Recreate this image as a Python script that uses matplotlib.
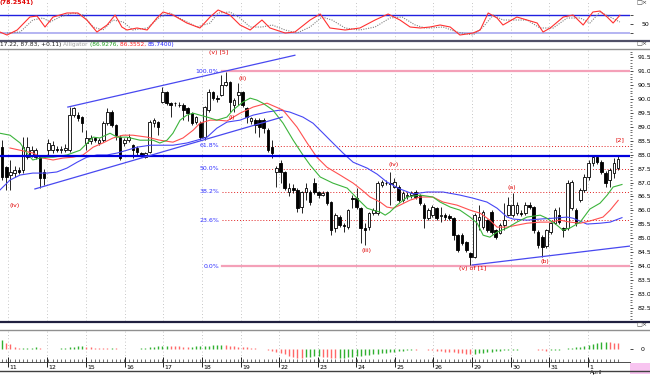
import matplotlib
matplotlib.use("Agg")
import matplotlib.pyplot as plt
from matplotlib.lines import Line2D
from matplotlib.patches import Rectangle

W, H = 650, 375

# ---- price bars (one per bar) ----
opens = [88.27, 87.55, 87.27, 87.35, 87.45, 87.45, 87.91, 87.98, 87.91, 87.91,
         87.37, 88.16, 88.16, 88.20, 88.16, 88.16, 88.16, 89.42, 89.42, 89.35,
         88.42, 88.50, 88.60, 88.42, 88.52, 89.13, 89.53, 89.06, 88.63, 88.42,
         88.52, 88.34, 88.25, 88.06, 87.91, 88.10, 89.13, 89.17, 89.89, 90.25,
         89.85, 89.85, 89.80, 89.78, 89.67, 89.49, 89.17, 89.13, 88.63, 89.60,
         90.25, 90.05, 90.14, 90.50, 90.60, 89.78, 90.14, 90.25, 89.67, 89.20,
         89.24, 89.24, 89.24, 88.88, 88.27, 87.37, 87.70, 87.37, 86.66, 86.80,
         86.73, 86.12, 86.66, 86.66, 87.00, 86.66, 86.55, 86.66, 86.30, 85.36,
         85.76, 85.47, 85.40, 86.44, 86.44, 86.08, 85.36, 85.40, 85.90, 85.90,
         86.91, 86.98, 86.98, 86.84, 86.84, 86.37, 86.50, 86.55, 86.66, 86.55,
         86.19, 85.72, 85.83, 86.08, 85.80, 85.83, 85.80, 85.72, 85.11, 85.11,
         84.86, 84.46, 84.32, 85.65, 85.40, 85.65, 85.94, 85.29, 85.20, 85.47,
         85.83, 85.83, 85.90, 85.92, 85.90, 86.19, 86.12, 85.22, 85.04, 84.72,
         85.22, 85.54, 85.83, 85.36, 85.36, 86.08, 86.01, 86.37, 86.73, 87.20,
         87.70, 87.91, 87.74, 87.34, 87.09, 87.34, 87.52]
highs = [88.52, 87.60, 87.81, 87.60, 87.55, 88.63, 88.63, 88.30, 88.25, 88.00,
         87.50, 88.55, 88.50, 88.30, 88.30, 88.40, 89.71, 89.72, 89.55, 89.40,
         88.88, 88.70, 88.65, 88.60, 89.20, 89.67, 89.60, 89.10, 88.70, 88.60,
         88.75, 88.40, 88.30, 88.10, 88.10, 89.25, 89.30, 89.20, 90.43, 90.30,
         89.90, 89.90, 89.90, 89.85, 89.70, 89.55, 89.40, 89.20, 89.75, 90.35,
         90.30, 90.15, 90.86, 90.97, 90.65, 90.05, 90.57, 90.30, 89.70, 89.35,
         89.30, 89.30, 89.30, 88.95, 88.52, 87.60, 87.80, 87.40, 87.00, 86.95,
         86.80, 86.70, 87.00, 86.75, 87.15, 86.70, 86.70, 86.70, 86.35, 85.90,
         85.85, 85.55, 86.05, 86.55, 86.80, 86.12, 85.54, 85.95, 86.10, 87.05,
         87.10, 87.10, 87.37, 87.15, 86.90, 86.70, 86.65, 86.70, 86.75, 86.60,
         86.25, 86.10, 86.20, 86.12, 86.12, 85.90, 85.88, 85.76, 85.15, 85.20,
         84.90, 84.50, 85.90, 86.19, 86.00, 85.70, 86.00, 85.35, 85.55, 86.26,
         86.48, 86.62, 86.30, 86.00, 86.30, 86.30, 86.15, 85.30, 85.10, 85.35,
         85.60, 86.10, 86.12, 85.40, 87.09, 87.10, 86.10, 86.80, 87.30, 87.80,
         88.00, 87.98, 87.80, 87.40, 87.52, 87.88, 87.98]
lows = [87.10, 86.73, 86.73, 87.20, 87.30, 87.35, 87.85, 87.90, 87.85, 86.80,
        86.90, 88.00, 88.05, 88.10, 88.05, 88.10, 88.10, 89.35, 89.20, 88.80,
        88.16, 88.40, 88.45, 88.35, 88.45, 89.05, 89.00, 88.52, 87.80, 88.30,
        88.45, 87.88, 88.00, 87.90, 87.88, 88.05, 89.00, 88.70, 89.85, 89.80,
        89.35, 89.75, 89.70, 89.24, 89.20, 89.06, 89.10, 88.52, 88.52, 89.55,
        89.95, 89.90, 90.10, 90.45, 89.53, 89.53, 89.78, 89.70, 89.13, 89.10,
        88.77, 88.63, 88.77, 88.10, 87.88, 86.84, 87.00, 86.75, 86.50, 86.62,
        85.94, 85.90, 86.37, 86.20, 86.60, 86.44, 86.50, 86.20, 85.11, 85.22,
        85.40, 85.22, 85.35, 86.10, 86.05, 84.83, 84.75, 85.30, 85.85, 85.85,
        86.85, 86.90, 86.19, 86.80, 86.30, 86.30, 86.40, 86.45, 86.40, 86.20,
        85.36, 85.65, 85.75, 85.65, 85.60, 85.65, 85.65, 84.93, 84.50, 84.75,
        84.50, 84.04, 84.28, 85.29, 85.35, 85.22, 85.15, 84.97, 85.15, 85.30,
        85.80, 85.75, 85.85, 85.80, 85.85, 86.05, 85.20, 84.65, 84.32, 84.65,
        85.15, 85.50, 85.50, 85.04, 85.30, 86.00, 85.45, 86.30, 86.65, 87.10,
        87.60, 87.65, 87.30, 86.84, 86.84, 87.16, 87.45]
closes = [87.20, 87.20, 87.37, 87.45, 87.37, 88.27, 88.27, 88.16, 88.16, 87.16,
          87.16, 88.42, 88.34, 88.16, 88.20, 88.25, 89.42, 89.67, 89.30, 89.13,
          88.60, 88.60, 88.52, 88.52, 89.13, 89.53, 89.06, 88.70, 87.88, 88.52,
          88.63, 88.16, 88.10, 87.98, 88.06, 89.17, 89.24, 89.00, 90.25, 89.85,
          89.80, 89.87, 89.78, 89.60, 89.49, 89.13, 89.35, 88.63, 89.71, 90.25,
          90.03, 90.00, 90.50, 90.60, 89.89, 89.96, 90.25, 89.78, 89.35, 89.30,
          89.06, 89.00, 88.95, 88.16, 88.06, 87.52, 87.37, 86.80, 86.80, 86.73,
          86.08, 86.66, 86.80, 86.30, 86.66, 86.55, 86.62, 86.26, 85.29, 85.83,
          85.47, 85.45, 86.01, 86.40, 86.12, 85.36, 85.30, 85.90, 86.01, 86.98,
          87.02, 87.00, 86.95, 87.02, 86.37, 86.62, 86.55, 86.62, 86.48, 86.26,
          85.72, 86.01, 86.12, 85.72, 85.83, 85.76, 85.72, 85.11, 84.57, 84.83,
          84.57, 84.32, 85.83, 85.76, 85.94, 85.29, 85.22, 85.04, 85.47, 85.65,
          86.19, 86.19, 86.19, 85.88, 86.19, 86.12, 85.29, 84.75, 84.68, 85.29,
          85.54, 86.01, 85.58, 85.29, 86.98, 87.02, 85.54, 86.73, 87.20, 87.70,
          87.91, 87.74, 87.37, 86.98, 87.45, 87.70, 87.83]

# ---- Alligator lines (bar position, price) ----
lips_x = [-0.5, 1.9, 4.3, 5.9, 7.3, 9.0, 10.7, 12.1, 15.4, 18.5, 21.6, 23.2, 25.6, 27.3,
          29.6, 32.7, 35.8, 37.4, 39.1, 40.5, 42.2, 43.8, 45.3, 46.9, 48.6, 50.9, 53.3,
          54.7, 57.1, 58.8, 60.4, 61.8, 64.2, 66.6, 69.0, 71.3, 73.0, 75.4, 78.4, 81.8,
          84.1, 86.5, 87.9, 89.6, 90.8, 91.9, 93.6, 96.0, 99.1, 102.1, 103.8, 106.2,
          108.5, 110.9, 112.6, 114.0, 115.6, 117.3, 119.7, 122.0, 124.4, 127.5, 129.1,
          131.5, 132.9, 134.6, 137.0, 139.3, 141.7, 143.4, 144.8, 146.9]
lips_y = [88.77, 88.70, 88.42, 88.06, 87.81, 87.88, 87.91, 87.91, 87.99, 88.16, 88.63,
          88.60, 88.77, 88.63, 88.63, 88.52, 88.52, 88.42, 88.52, 88.77, 89.24, 89.42,
          89.49, 89.42, 89.35, 89.24, 89.35, 89.60, 89.89, 90.03, 89.96, 89.85, 89.60,
          89.13, 88.52, 87.99, 87.63, 87.20, 86.98, 86.80, 86.44, 86.08, 86.01, 85.94,
          85.83, 85.94, 86.19, 86.48, 86.55, 86.48, 86.30, 86.12, 86.01, 85.76, 85.54,
          85.11, 85.04, 85.22, 85.37, 85.58, 85.76, 85.83, 85.72, 85.47, 85.29, 85.37,
          85.58, 86.05, 86.26, 86.55, 86.84, 86.93]
teeth_x = [1.9, 4.3, 7.3, 9.7, 12.1, 14.5, 16.8, 19.2, 21.6, 23.9, 26.3, 28.7, 31.0,
           34.4, 37.4, 40.5, 42.9, 45.3, 46.9, 49.3, 51.2, 53.3, 56.4, 59.5, 62.8, 66.6,
           69.9, 72.3, 74.6, 77.0, 80.1, 83.2, 85.3, 87.2, 89.6, 91.2, 92.7, 94.3, 96.7,
           99.1, 102.1, 104.5, 107.8, 110.9, 113.3, 115.6, 117.3, 119.7, 122.0, 124.4,
           127.5, 129.9, 132.2, 134.6, 137.0, 139.3, 142.4, 144.1, 146.0]
teeth_y = [88.24, 88.16, 88.06, 87.88, 87.81, 87.88, 87.91, 87.99, 88.27, 88.42, 88.60,
           88.70, 88.70, 88.63, 88.52, 88.45, 88.60, 88.88, 89.13, 89.24, 89.24, 89.21,
           89.49, 89.71, 89.85, 89.60, 88.99, 88.42, 87.91, 87.55, 87.27, 86.98, 86.73,
           86.48, 86.30, 86.12, 86.08, 86.19, 86.37, 86.48, 86.48, 86.30, 86.19, 86.01,
           85.90, 85.65, 85.40, 85.40, 85.47, 85.54, 85.58, 85.58, 85.65, 85.58, 85.54,
           85.62, 85.76, 86.01, 86.36]
jaw_x = [-0.5, 1.9, 4.3, 7.3, 10.7, 13.0, 15.4, 17.8, 20.1, 22.5, 24.9, 27.3, 29.6, 32.0,
         35.1, 37.4, 40.5, 43.8, 46.2, 48.6, 50.9, 53.3, 56.4, 59.5, 62.8, 65.9, 68.2,
         71.3, 73.7, 76.1, 78.4, 80.8, 83.2, 86.5, 88.9, 91.2, 94.3, 97.4, 100.7, 104.5,
         108.5, 111.6, 114.9, 117.3, 119.7, 121.1, 124.4, 127.5, 130.6, 133.9, 135.3,
         138.6, 141.7, 144.1, 146.9]
jaw_y = [86.73, 87.09, 87.27, 87.34, 87.34, 87.38, 87.52, 87.73, 87.91, 87.99, 87.99,
         88.06, 88.16, 88.27, 88.34, 88.34, 88.34, 88.42, 88.52, 88.63, 88.95, 89.17,
         89.24, 89.42, 89.53, 89.60, 89.53, 89.35, 89.13, 88.77, 88.42, 88.06, 87.73,
         87.52, 87.30, 87.02, 86.77, 86.59, 86.66, 86.66, 86.55, 86.44, 86.30, 86.08,
         85.76, 85.69, 85.65, 85.69, 85.72, 85.76, 85.72, 85.51, 85.54, 85.58, 85.74]

# ---- stochastic (top panel) ----
stoch_x = [-0.5, 1.2, 3.6, 6.6, 8.3, 10.2, 12.1, 15.4, 18.0, 20.1, 22.5, 24.9, 26.8,
           28.4, 29.6, 32.0, 34.4, 36.7, 38.2, 40.5, 43.8, 46.9, 49.3, 51.2, 54.0, 56.4,
           58.8, 61.6, 63.5, 67.1, 69.4, 73.0, 75.4, 77.7, 81.3, 84.8, 88.4, 91.5, 94.3,
           96.7, 99.1, 101.4, 103.8, 106.2, 108.5, 111.6, 113.3, 115.2, 117.3, 118.7,
           122.0, 124.4, 126.8, 128.2, 129.9, 133.0, 135.3, 137.7, 140.0, 141.7, 143.4,
           144.8, 146.4]
stoch_k = [22.3, 12.3, 29.0, 72.3, 75.7, 39.0, 72.3, 85.7, 85.7, 62.3, 22.3, 45.7, 79.0,
           39.0, 29.0, 35.7, 29.0, 69.0, 89.0, 79.0, 52.3, 35.7, 72.3, 95.7, 79.0, 45.7,
           29.0, 62.3, 35.7, 19.0, 22.3, 62.3, 82.3, 35.7, 29.0, 35.7, 62.3, 82.3, 62.3,
           39.0, 35.7, 39.0, 45.7, 39.0, 12.3, 19.0, 29.0, 85.7, 69.0, 45.7, 72.3, 62.3,
           52.3, 22.3, 35.7, 72.3, 79.0, 45.7, 89.0, 92.3, 72.3, 52.3, 78.3]
sig_x = [1.2, 4.3, 7.3, 9.7, 11.4, 13.7, 16.8, 19.2, 21.6, 23.9, 26.3, 28.7, 31.0, 34.4,
         37.4, 39.8, 42.9, 46.2, 49.3, 51.2, 54.0, 56.4, 58.8, 61.6, 64.0, 67.1, 69.9,
         73.0, 75.8, 78.2, 81.3, 84.8, 88.4, 91.9, 94.8, 97.9, 100.2, 101.4, 104.5,
         107.8, 111.6, 114.0, 116.4, 118.7, 121.1, 124.4, 127.5, 130.6, 133.9, 137.0,
         139.3, 141.7, 144.1, 146.4]
stoch_d = [19.0, 22.3, 62.3, 69.0, 55.7, 72.3, 85.7, 79.0, 39.0, 29.0, 62.3, 55.7, 29.0,
           35.7, 72.3, 85.7, 62.3, 39.0, 52.3, 85.7, 89.0, 69.0, 39.0, 39.0, 45.7, 29.0,
           19.0, 39.0, 72.3, 62.3, 35.7, 29.0, 39.0, 69.0, 72.3, 45.7, 35.7, 35.7, 39.0,
           22.3, 12.3, 39.0, 79.0, 62.3, 62.3, 62.3, 35.7, 35.7, 69.0, 69.0, 52.3, 89.0,
           72.3, 55.7]

# ---- oscillator histogram (bottom panel), one value per bar ----
osc = [9, 6, 5, 2, 1.5, 1.6, 1.7, 1.8, 1.9, 1, 0.5, 0.5, 0.7, 0.8, 1, 1.5, 2, 2.5, 3, 3.2,
       2.5, 2, 1.8, 1.5, 1.2, 1, 1.2, 1, 0.8, 0.6, 0.5, 0.6, 0.8, 1, 1.2, 2, 2.5, 3, 3.5,
       3.8, 3.5, 3.2, 3, 2.8, 2.6, 2.8, 3, 3.4, 3.6, 3.8, 4, 4.2, 4.3, 4.1, 3.6, 3.2, 2.8,
       2.4, 2, 1.6, 1.2, 0.8, 0.3, -0.5, -1.5, -2.5, -4, -5, -6.5, -7.5, -8.5, -9, -8,
       -7.5, -7, -6.8, -7.5, -8, -8.5, -9, -8.5, -8.2, -7.8, -7.5, -7, -6.5, -6, -5.5, -5,
       -4.5, -4, -3.5, -3, -2.5, -2, -1.5, -1, -0.5, -0.6, 0.3, 0.4, -0.5, -1, -1.5, -2,
       -2.2, -2.5, -3, -3.5, -4, -4.5, -4.8, -4.5, -4, -3.5, -3, -2.5, -2, -1.5, -1, -0.7,
       -0.5, -0.3, 0.3, 0.5, 0.4, 0.2, -0.5, -1, -1.2, -1, -0.5, -0.2, 0.5, 1, 1.5, 2, 2.5,
       3, 4, 5, 6, 7, 7.5, 7, 6.8, 6.5]

# ---- axis labels / annotations ----
day_pos = [1.4, 10.7, 19.9, 29.1, 38.2, 47.4, 56.6, 65.6, 74.9, 83.9, 93.1, 102.1,
           111.4, 120.6, 129.6, 138.9]
day_labels = ['11', '12', '15', '16', '17', '18', '19', '22', '23', '24', '25', '26',
              '29', '30', '31', '1']
fib_high, fib_low = 91.0, 84.0
fib_levels = [1.0, 0.618, 0.5, 0.382, 0.236, 0.0]
fib_names = ['100.0%', '61.8%', '50.0%', '38.2%', '23.6%', '0.0%']
fib_start = 52.1
hline_price = 87.95
upper_chan = ([15.6, 69.4], [89.71, 91.57])
lower_chan = ([7.8, 66.4], [86.77, 89.35])
low_trend = ([111.4, 148.8], [84.04, 84.72])
wave_text = ['(iv)', '(v) [5]', '(ii)', '(i)', '(iii)', '(iv)', '(a)', '(b)', '(v) of [1]', '[2]']
wave_x = [3.1, 51.4, 56.9, 54.5, 86.3, 92.7, 120.9, 128.7, 111.4, 146.4]
wave_y = [86.19, 91.68, 90.75, 89.35, 84.57, 87.66, 86.84, 84.18, 83.93, 88.52]
header_parts = ['17.22, 87.83, +0.11) ', 'Alligator ', '(86.9276, ', '86.3552, ', '85.7400)']
header_colors = ['#202020', '#a0a0a0', '#20a020', '#ff2020', '#2020ff']

XMIN, XMAX = -0.47, 148.8
FS = 4.5

fig = plt.figure(figsize=(W / 100, H / 100), dpi=100)


def px_axes(x0, y0, x1, y1):
    return fig.add_axes([x0 / W, 1 - y1 / H, (x1 - x0) / W, (y1 - y0) / H])


def fig_hline(y, color, lw, x0=0, x1=W):
    fig.add_artist(Line2D([x0 / W, x1 / W], [1 - y / H, 1 - y / H], color=color, lw=lw))


def strip(ax):
    for s in ax.spines.values():
        s.set_visible(False)
    ax.set_xlim(XMIN, XMAX)
    ax.tick_params(axis='x', which='both', bottom=False, labelbottom=False)
    for d in day_pos:
        ax.axvline(d, color='#b4b4b4', lw=0.6, ls=(0, (1, 3)), zorder=0)


# top panel: stochastic
ax_top = px_axes(0, 0, 630, 40)
strip(ax_top)
ax_top.set_ylim(-4.3, 129)
ax_top.axhline(80, color='#2020e0', lw=1.0)
ax_top.axhline(20, color='#a8a8f0', lw=1.2)
ax_top.plot(sig_x, stoch_d, color='#808080', lw=0.8, ls=(0, (1, 1.2)))
ax_top.plot(stoch_x, stoch_k, color='#ff3030', lw=0.8)
ax_top.yaxis.tick_right()
ax_top.set_yticks([20, 50, 80])
ax_top.set_yticklabels(['', '50', ''])
ax_top.tick_params(axis='y', labelsize=FS, length=2, pad=6, width=0.5)
ax_top.text(0, 1.0, '(78.2541)', transform=ax_top.transAxes, color='#e00000',
            fontsize=FS, va='top', ha='left', fontweight='bold')

# main panel
ax = px_axes(0, 48, 630, 321)
strip(ax)
ax.set_ylim(82.03, 91.83)

for i in range(len(closes)):
    o, h, l, c = opens[i], highs[i], lows[i], closes[i]
    ax.vlines(i, l, h, color='black', lw=0.6, zorder=3)
    up = c >= o
    ax.bar(i, max(abs(c - o), 0.02), bottom=min(o, c), width=0.62,
           color='white' if up else 'black', edgecolor='black', lw=0.6, zorder=4)

ax.plot(jaw_x, jaw_y, color='#4646f5', lw=0.8, zorder=5)
ax.plot(teeth_x, teeth_y, color='#ff5050', lw=0.8, zorder=5)
ax.plot(lips_x, lips_y, color='#3cb43c', lw=0.8, zorder=5)

for lvl, name in zip(fib_levels, fib_names):
    p = fib_low + lvl * (fib_high - fib_low)
    if lvl in (0.0, 1.0):
        ax.plot([fib_start, XMAX], [p, p], color='#f4a0b8', lw=1.6, zorder=2)
    else:
        ax.plot([fib_start, XMAX], [p, p], color='#e02020', lw=0.7, ls=(0, (1, 2)), zorder=2)
    ax.text(fib_start - 0.7, p, name, color='#3030ff', fontsize=FS, ha='right', va='center')

ax.axhline(hline_price, color='#0000dd', lw=1.6, zorder=6)
ax.plot(*upper_chan, color='#4848f0', lw=0.9, zorder=6)
ax.plot(*lower_chan, color='#4848f0', lw=0.9, zorder=6)
ax.plot(*low_trend, color='#4848f0', lw=0.9, zorder=6)

for t, x, y in zip(wave_text, wave_x, wave_y):
    ax.text(x, y, t, color='#e00000', fontsize=FS, ha='center', va='center', zorder=7)

ax.yaxis.tick_right()
ax.set_yticks([82.5 + 0.5 * k for k in range(19)])
ax.set_yticks([82.1 + 0.1 * k for k in range(98)], minor=True)
ax.yaxis.set_major_formatter(plt.FormatStrFormatter('%.1f'))
ax.tick_params(axis='y', which='major', labelsize=FS, length=2.5, pad=3, width=0.5)
ax.tick_params(axis='y', which='minor', length=1.2, width=0.4)

# bottom panel: oscillator histogram
ax_b = px_axes(0, 330, 630, 362)
strip(ax_b)
ax_b.set_ylim(-12.7, 19.3)
for i, v in enumerate(osc):
    col = '#30b030' if (i == 0 or v >= osc[i - 1]) else '#ff6868'
    ax_b.vlines(i, 0, v, color=col, lw=1.0)
ax_b.yaxis.tick_right()
ax_b.set_yticks([0])
ax_b.tick_params(axis='y', labelsize=FS, length=2, pad=6, width=0.5)
ax_b.spines['bottom'].set_visible(True)
ax_b.spines['bottom'].set_color('#303030')
ax_b.spines['bottom'].set_linewidth(0.6)
ax_b.set_xticks(day_pos)
ax_b.set_xticks(range(len(closes)), minor=True)
ax_b.tick_params(axis='x', which='major', bottom=True, direction='inout', length=7, width=0.6)
ax_b.tick_params(axis='x', which='minor', bottom=True, direction='in', length=2, width=0.4)
for d, lab in zip(day_pos, day_labels):
    ax_b.text(d + 0.3, -0.08, lab, transform=ax_b.get_xaxis_transform(),
              fontsize=FS, ha='left', va='top')
ax_b.text(day_pos[-1] + 0.3, -0.26, 'April', transform=ax_b.get_xaxis_transform(),
          fontsize=4, ha='left', va='top')

# panel separators
fig_hline(40.5, '#505068', 1.6)
fig_hline(48.5, '#909090', 1.0)
fig_hline(321.5, '#202040', 1.6)
fig_hline(329.5, '#909090', 1.0)
fig_hline(370.5, '#404040', 1.0)

# header: coloured pieces placed one after another
fig.canvas.draw()
renderer = fig.canvas.get_renderer()
x_px = 0
for part, col in zip(header_parts, header_colors):
    t = fig.text(x_px / W, 1 - 44.5 / H, part, fontsize=4.2, va='center', color=col)
    x_px = t.get_window_extent(renderer).x1

for yy in (3, 44, 325):
    fig.text(636 / W, 1 - yy / H, '\u25a1\u00d7', fontsize=FS, va='center', color='#404040')
fig.add_artist(Rectangle((630 / W, 1 - 374 / H), 20 / W, 11 / H, transform=fig.transFigure,
                         color='#f8c4f0', lw=0))

fig.savefig('out.png', dpi=100)
